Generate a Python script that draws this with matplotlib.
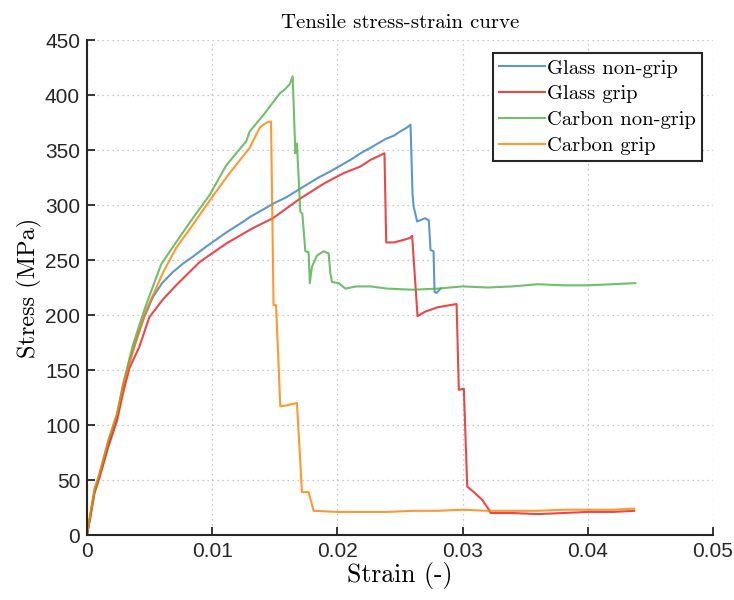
import matplotlib
matplotlib.use("Agg")
import matplotlib.pyplot as plt

# strain (-) / stress (MPa)
glass_nongrip_strain = [0, 0.0003, 0.0006, 0.001, 0.0017, 0.0024, 0.0029, 0.0034, 0.0039, 0.0045,
                        0.00525, 0.006, 0.00685, 0.0077, 0.00845, 0.0095, 0.0105, 0.01112, 0.0125,
                        0.0130, 0.01378, 0.0150, 0.01592, 0.01704, 0.0185, 0.0195, 0.02104, 0.02184,
                        0.02264, 0.02384, 0.0245, 0.02504, 0.0255, 0.02584, 0.0260, 0.0261, 0.02637,
                        0.0270, 0.0273, 0.02744, 0.02768, 0.02776, 0.02792, 0.02824]
glass_nongrip_stress = [0, 20, 40, 54, 83, 108, 136, 158, 176, 196,
                        216, 229, 239, 247, 253, 262, 270, 275, 285,
                        289, 294, 302, 307, 315, 325, 331, 341, 347,
                        352, 360, 363, 367, 370, 373, 310, 298, 285,
                        288, 286, 259, 258, 221, 220, 224]

glass_grip_strain = [0, 0.0003, 0.0006, 0.001, 0.0017, 0.0024, 0.0029, 0.0034, 0.00418, 0.00498,
                     0.00605, 0.00712, 0.00898, 0.01112, 0.01325, 0.01485, 0.01704, 0.019, 0.0205,
                     0.02184, 0.02264, 0.0232, 0.02376, 0.0239, 0.0245, 0.0252, 0.0258, 0.02597,
                     0.0264, 0.0270, 0.0280, 0.0290, 0.02952, 0.0297, 0.0301, 0.03037, 0.0309,
                     0.03157, 0.0321, 0.03224, 0.0340, 0.0360, 0.0380, 0.0400, 0.0420, 0.0437]
glass_grip_stress = [0, 18, 38, 52, 80, 104, 130, 152, 171, 198,
                     214, 227, 248, 265, 279, 288, 306, 320, 329,
                     335, 341, 344, 347, 266, 266, 268, 270, 272,
                     199, 203, 207, 209, 210, 132, 133, 44, 39,
                     32, 23, 20, 20, 19, 20, 21, 21, 22]

carbon_nongrip_strain = [0, 0.0003, 0.0006, 0.001, 0.0017, 0.0024, 0.0029, 0.00365, 0.00459, 0.00592,
                         0.00699, 0.00845, 0.00979, 0.01112, 0.01272, 0.0130, 0.0141, 0.01544, 0.0158,
                         0.0162, 0.01643, 0.01664, 0.01677, 0.01704, 0.0172, 0.01744, 0.0177, 0.0178,
                         0.01797, 0.01837, 0.0189, 0.0193, 0.01944, 0.01957, 0.0201, 0.02064, 0.0215,
                         0.02264, 0.024, 0.026, 0.028, 0.030, 0.032, 0.034, 0.036, 0.038, 0.040,
                         0.042, 0.0438]
carbon_nongrip_stress = [0, 20, 40, 55, 85, 110, 138, 172, 205, 246,
                         264, 288, 309, 336, 358, 367, 382, 402, 405,
                         410, 417, 347, 356, 294, 292, 258, 257, 229,
                         244, 254, 258, 256, 238, 230, 229, 224, 226,
                         226, 224, 223, 224, 226, 225, 226, 228, 227, 227,
                         228, 229]

carbon_grip_strain = [0, 0.0003, 0.0006, 0.001, 0.0017, 0.0024, 0.0029, 0.00378, 0.00472, 0.00605,
                      0.00712, 0.00845, 0.00992, 0.01139, 0.0130, 0.01352, 0.01384, 0.01437, 0.0147,
                      0.0149, 0.0151, 0.01544, 0.0160, 0.01677, 0.01717, 0.0177, 0.0181, 0.020,
                      0.022, 0.024, 0.026, 0.028, 0.030, 0.032, 0.034, 0.036, 0.038, 0.040, 0.042,
                      0.0437]
carbon_grip_stress = [0, 22, 42, 56, 86, 110, 137, 171, 204, 238,
                      261, 282, 306, 329, 352, 364, 371, 375, 376,
                      209, 209, 117, 118, 120, 39, 39, 22, 21,
                      21, 21, 22, 22, 23, 22, 22, 22, 23, 23, 23,
                      24]

labels = ["Glass non-grip", "Glass grip", "Carbon non-grip", "Carbon grip"]
colors = ["#377eb8", "#e41a1c", "#4daf4a", "#ff7f00"]

serif = "cmr10"
plt.rcParams["font.family"] = "Liberation Sans"

fig = plt.figure(figsize=(7.34, 6.0), dpi=100)
ax = fig.add_axes([0.1185, 0.1083, 0.8529, 0.825])

series = [(glass_nongrip_strain, glass_nongrip_stress),
          (glass_grip_strain, glass_grip_stress),
          (carbon_nongrip_strain, carbon_nongrip_stress),
          (carbon_grip_strain, carbon_grip_stress)]
for (x, y), lab, c in zip(series, labels, colors):
    ax.plot(x, y, color=c, lw=1.5, alpha=0.8, label=lab)

ax.set_xlim(0, 0.05)
ax.set_ylim(0, 450)
ax.set_xticks([0, 0.01, 0.02, 0.03, 0.04, 0.05])
ax.set_xticklabels(["0", "0.01", "0.02", "0.03", "0.04", "0.05"])
ax.set_yticks(range(0, 451, 50))

ax.grid(True, linestyle=(0, (1, 3)), color="#b8b8b8", lw=0.9)
ax.set_axisbelow(True)
for s in ["top", "right"]:
    ax.spines[s].set_visible(False)
for s in ["left", "bottom"]:
    ax.spines[s].set_linewidth(1.5)
    ax.spines[s].set_color("#262626")
ax.tick_params(direction="in", length=6, width=1.3, colors="#262626", labelsize=15, pad=5)

ax.set_title("Tensile stress-strain curve", fontfamily=serif, fontsize=15, pad=9)
ax.set_xlabel("Strain (-)", fontfamily=serif, fontsize=18.5, labelpad=1)
ax.set_ylabel("Stress (MPa)", fontfamily=serif, fontsize=17.5, labelpad=2)

leg = ax.legend(loc="upper right", bbox_to_anchor=(0.985, 0.978), prop={"family": serif, "size": 14.8},
                fancybox=False, edgecolor="#262626", framealpha=1, handlelength=2.2,
                handletextpad=0.1, labelspacing=0.36, borderpad=0.3, borderaxespad=0.1)
leg.get_frame().set_linewidth(1.5)

fig.savefig("out.png", dpi=100)
